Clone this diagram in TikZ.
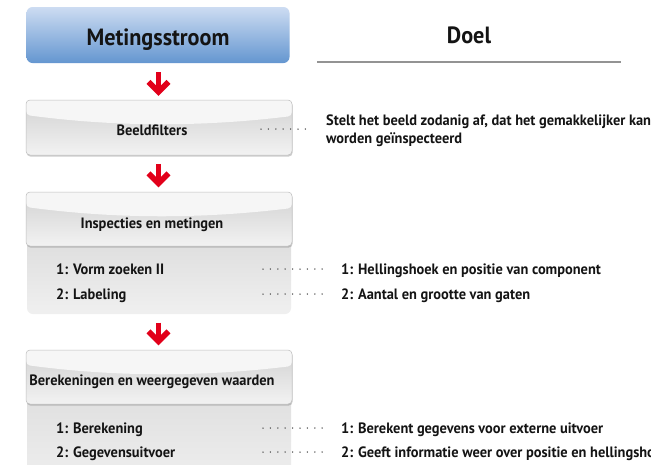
\documentclass[tikz,border=0pt]{standalone}
\usepackage{fontspec}
\newfontfamily\df{PT Sans}[FakeStretch=0.96]
\newfontfamily\dfh{PT Sans}[FakeStretch=0.945]
\usetikzlibrary{calc,shadows}
\definecolor{tx}{HTML}{141414}
\definecolor{arrred}{HTML}{E2001A}
\definecolor{blueT}{RGB}{205,220,242}
\definecolor{blueB}{RGB}{100,150,208}
\tikzset{
  bluebox/.style={rounded corners=6pt, minimum width=263pt, minimum height=56pt, inner sep=0pt,
    top color=blueT, bottom color=blueB, draw=none},
  hdrbox/.style={rounded corners=4pt, minimum width=266pt, minimum height=#1, inner sep=0pt,
    top color=gray!36, bottom color=gray!10, draw=gray!50, line width=0.5pt,
    drop shadow={shadow xshift=0.6pt, shadow yshift=-1.6pt, opacity=0.4},
    path picture={
      \fill[gray!7] (path picture bounding box.north west)
        -- ($(path picture bounding box.north west)+(0,15)$)
        .. controls ($(path picture bounding box.north west)+(90,27)$) and ($(path picture bounding box.north east)+(-90,27)$)
        .. ($(path picture bounding box.north east)+(0,16)$)
        -- (path picture bounding box.north east) -- cycle;}},
  bodybox/.style={rounded corners=6pt, minimum width=264pt, minimum height=#1, inner sep=0pt,
    top color=gray!28, bottom color=gray!12, draw=none},
  htxt/.style={inner sep=0pt, anchor=base, text=tx, font=\df\bfseries\fontsize{15}{18}\selectfont},
  bigtxt/.style={inner sep=0pt, anchor=base, text=tx, font=\dfh\bfseries\fontsize{23.5}{28}\selectfont},
  dtxt/.style={inner sep=0pt, anchor=base west, text=tx, font=\df\bfseries\fontsize{15}{18}\selectfont},
  dots/.style={draw=black!75, line width=1.5pt, line cap=round, dash pattern=on 0pt off 7.4pt},
  ul/.style={draw=gray!85, line width=1.3pt},
  redstem/.style={draw=arrred, line width=5.3pt},
  redhead/.style={draw=arrred, line width=5.6pt, line join=miter, line cap=butt},
}
\begin{document}
\begin{tikzpicture}[x=1pt,y=-1pt]
\useasboundingbox (0,0) rectangle (651,464);
\clip (0,0) rectangle (651,464);
\fill[white] (0,0) rectangle (651,464);

% header
\node[bluebox] (m) at (158,35) {};
\node[bigtxt] (mt) at (158,45) {Metingsstroom};
\node[bigtxt] (dl) at (469,43) {Doel};
\coordinate (ul1) at (317,62);
\coordinate (ul2) at (621,62);
\draw[ul] (ul1) -- (ul2);

% Beeldfilters
\node[hdrbox=55pt] (bf) at (159,127.5) {};
\node[htxt] (bft) at (152,135) {Beeldfilters};
\node[dtxt] (st1) at (326,125) {Stelt het beeld zodanig af, dat het gemakkelijker kan};
\node[dtxt] (st2) at (326,143) {worden geïnspecteerd};
\coordinate (d0) at (261,129);
\draw[dots, shorten >=14pt] (d0) -- (d0 -| st1.west);

% Inspecties en metingen
\node[bodybox=84pt] (insb) at (159,272) {};
\node[hdrbox=54pt] (ins) at (159,219) {};
\node[htxt] (inst) at (152,228) {Inspecties en metingen};
\node[dtxt] (i1) at (56,274) {1: Vorm zoeken II};
\node[dtxt] (i2) at (56,299) {2: Labeling};
\node[dtxt] (r1) at (341,274) {1: Hellingshoek en positie van component};
\node[dtxt] (r2) at (341,299) {2: Aantal en grootte van gaten};
\coordinate (d1) at (263,269);
\coordinate (d2) at (263,294);
\draw[dots, shorten >=17pt] (d1) -- (d1 -| r1.west);
\draw[dots, shorten >=17pt] (d2) -- (d2 -| r2.west);

% Berekeningen
\node[bodybox=120pt] (berb) at (159,430) {};
\node[hdrbox=54pt] (ber) at (159,377) {};
\node[htxt] (bert) at (152,385) {Berekeningen en weergegeven waarden};
\node[dtxt] (b1) at (56,433) {1: Berekening};
\node[dtxt] (b2) at (56,457) {2: Gegevensuitvoer};
\node[dtxt] (q1) at (341,433) {1: Berekent gegevens voor externe uitvoer};
\node[dtxt] (q2) at (341,457) {2: Geeft informatie weer over positie en hellingshoek};
\coordinate (d3) at (263,428);
\coordinate (d4) at (263,452);
\draw[dots, shorten >=17pt] (d3) -- (d3 -| q1.west);
\draw[dots, shorten >=17pt] (d4) -- (d4 -| q2.west);

% red arrows
\coordinate (a1s) at ($(m.south)+(0.5,9)$);
\coordinate (a1e) at ($(a1s |- bf.north)+(0,-4)$);
\draw[redstem] (a1s) -- ($(a1e)+(0,-8)$);
\draw[redhead] ($(a1e)+(-10,-13.9)$) -- ($(a1e)+(0,-3.9)$) -- ($(a1e)+(10,-13.9)$);

\coordinate (a2s) at ($(bf.south)+(-0.5,8.5)$);
\coordinate (a2e) at ($(a2s |- ins.north)+(0,-4.5)$);
\draw[redstem] (a2s) -- ($(a2e)+(0,-8)$);
\draw[redhead] ($(a2e)+(-10,-13.9)$) -- ($(a2e)+(0,-3.9)$) -- ($(a2e)+(10,-13.9)$);

\coordinate (a3s) at ($(insb.south)+(-0.5,8.5)$);
\coordinate (a3e) at ($(a3s |- ber.north)+(0,-4.5)$);
\draw[redstem] (a3s) -- ($(a3e)+(0,-8)$);
\draw[redhead] ($(a3e)+(-10,-13.9)$) -- ($(a3e)+(0,-3.9)$) -- ($(a3e)+(10,-13.9)$);
\end{tikzpicture}
\end{document}
